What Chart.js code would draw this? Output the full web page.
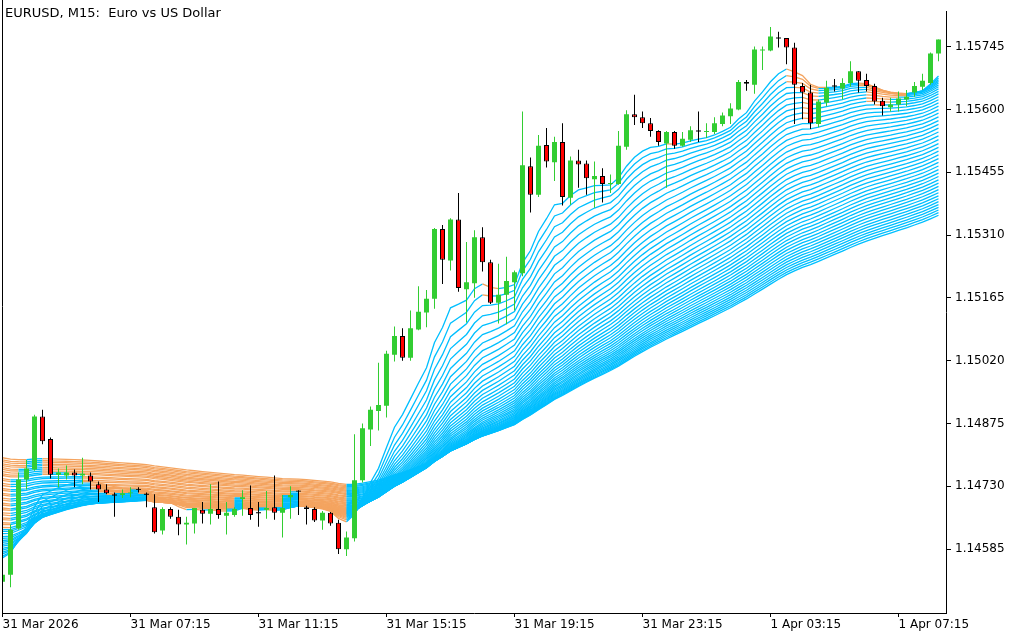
<!DOCTYPE html>
<html>
<head>
<meta charset="utf-8">
<title>EURUSD, M15</title>
<script src="https://cdn.jsdelivr.net/npm/chart.js"></script>
<style>
  html, body { margin: 0; padding: 0; background: #fff; }
  #wrap { position: relative; width: 1024px; height: 640px; }
  #title { position: absolute; left: 5px; top: 5px; font: 13px "DejaVu Sans", sans-serif; line-height: 15px; color: #000; white-space: pre; }
</style>
</head>
<body>
<div id="wrap">
  <canvas id="chart" width="1024" height="640"></canvas>
  <div id="title">EURUSD, M15:  Euro vs US Dollar</div>
</div>
<script>
// M15 bars, 31 Mar 03:15 .. 1 Apr 08:30
const opens = [
  1.14510, 1.14526, 1.14633, 1.14746, 1.14769, 1.14891, 1.14839, 1.14757, 1.14755, 1.14762,
  1.14755, 1.14755, 1.14735, 1.14723, 1.14710, 1.14710, 1.14714, 1.14723, 1.14712, 1.14682,
  1.14628, 1.14678, 1.14660, 1.14642, 1.14644, 1.14676, 1.14667, 1.14678, 1.14662, 1.14664,
  1.14701, 1.14680, 1.14669, 1.14676, 1.14682, 1.14669, 1.14705, 1.14719, 1.14682, 1.14678,
  1.14651, 1.14669, 1.14646, 1.14585, 1.14610, 1.14744, 1.14861, 1.14904, 1.14916, 1.15034,
  1.15077, 1.15027, 1.15092, 1.15131, 1.15163, 1.15324, 1.15251, 1.15346, 1.15185, 1.15199,
  1.15305, 1.15247, 1.15154, 1.15172, 1.15201, 1.15222, 1.15469, 1.15403, 1.15518, 1.15478,
  1.15525, 1.15396, 1.15482, 1.15475, 1.15439, 1.15446, 1.15428, 1.15428, 1.15514, 1.15589,
  1.15582, 1.15568, 1.15550, 1.15521, 1.15548, 1.15516, 1.15530, 1.15550, 1.15548, 1.15548,
  1.15566, 1.15584, 1.15600, 1.15663, 1.15657, 1.15736, 1.15736, 1.15765, 1.15765, 1.15743,
  1.15654, 1.15639, 1.15566, 1.15616, 1.15654, 1.15648, 1.15661, 1.15688, 1.15668, 1.15654,
  1.15620, 1.15605, 1.15611, 1.15623, 1.15639, 1.15652, 1.15661, 1.15729
];
const highs = [
  1.14535, 1.14642, 1.14762, 1.14791, 1.14895, 1.14907, 1.14843, 1.14771, 1.14778, 1.14769,
  1.14796, 1.14762, 1.14741, 1.14735, 1.14716, 1.14723, 1.14728, 1.14728, 1.14716, 1.14712,
  1.14682, 1.14682, 1.14676, 1.14660, 1.14678, 1.14694, 1.14735, 1.14741, 1.14694, 1.14682,
  1.14721, 1.14732, 1.14694, 1.14719, 1.14755, 1.14710, 1.14730, 1.14721, 1.14685, 1.14682,
  1.14673, 1.14671, 1.14653, 1.14626, 1.14850, 1.14875, 1.14914, 1.15015, 1.15043, 1.15099,
  1.15095, 1.15136, 1.15192, 1.15183, 1.15326, 1.15333, 1.15349, 1.15407, 1.15294, 1.15321,
  1.15328, 1.15253, 1.15244, 1.15260, 1.15228, 1.15595, 1.15489, 1.15541, 1.15557, 1.15537,
  1.15568, 1.15491, 1.15507, 1.15482, 1.15480, 1.15464, 1.15450, 1.15550, 1.15598, 1.15634,
  1.15595, 1.15580, 1.15552, 1.15550, 1.15550, 1.15548, 1.15561, 1.15595, 1.15568, 1.15582,
  1.15593, 1.15614, 1.15668, 1.15668, 1.15745, 1.15745, 1.15790, 1.15779, 1.15765, 1.15754,
  1.15661, 1.15657, 1.15623, 1.15666, 1.15670, 1.15672, 1.15711, 1.15688, 1.15682, 1.15659,
  1.15627, 1.15627, 1.15641, 1.15645, 1.15663, 1.15682, 1.15731, 1.15761
];
const lows = [
  1.14503, 1.14497, 1.14630, 1.14723, 1.14766, 1.14827, 1.14748, 1.14728, 1.14746, 1.14728,
  1.14735, 1.14723, 1.14694, 1.14712, 1.14660, 1.14703, 1.14705, 1.14716, 1.14682, 1.14621,
  1.14619, 1.14655, 1.14617, 1.14596, 1.14621, 1.14644, 1.14642, 1.14655, 1.14619, 1.14660,
  1.14662, 1.14653, 1.14637, 1.14655, 1.14653, 1.14612, 1.14655, 1.14664, 1.14642, 1.14648,
  1.14630, 1.14639, 1.14574, 1.14569, 1.14603, 1.14739, 1.14823, 1.14859, 1.14889, 1.15018,
  1.15020, 1.15020, 1.15090, 1.15097, 1.15140, 1.15197, 1.15228, 1.15179, 1.15108, 1.15165,
  1.15226, 1.15151, 1.15106, 1.15104, 1.15136, 1.15215, 1.15362, 1.15398, 1.15466, 1.15435,
  1.15378, 1.15380, 1.15419, 1.15403, 1.15373, 1.15385, 1.15407, 1.15426, 1.15507, 1.15564,
  1.15557, 1.15537, 1.15516, 1.15419, 1.15509, 1.15514, 1.15525, 1.15525, 1.15534, 1.15543,
  1.15561, 1.15566, 1.15598, 1.15643, 1.15636, 1.15691, 1.15734, 1.15743, 1.15704, 1.15566,
  1.15577, 1.15555, 1.15559, 1.15607, 1.15641, 1.15623, 1.15652, 1.15639, 1.15641, 1.15611,
  1.15586, 1.15595, 1.15595, 1.15607, 1.15629, 1.15645, 1.15657, 1.15711
];
const closes = [
  1.14526, 1.14630, 1.14746, 1.14771, 1.14891, 1.14834, 1.14757, 1.14762, 1.14762, 1.14755,
  1.14759, 1.14741, 1.14723, 1.14714, 1.14710, 1.14714, 1.14716, 1.14723, 1.14712, 1.14624,
  1.14678, 1.14660, 1.14642, 1.14646, 1.14680, 1.14667, 1.14678, 1.14664, 1.14669, 1.14678,
  1.14705, 1.14664, 1.14669, 1.14680, 1.14669, 1.14680, 1.14710, 1.14719, 1.14678, 1.14651,
  1.14669, 1.14644, 1.14585, 1.14612, 1.14744, 1.14864, 1.14907, 1.14918, 1.15036, 1.15077,
  1.15027, 1.15095, 1.15133, 1.15163, 1.15324, 1.15253, 1.15346, 1.15188, 1.15201, 1.15305,
  1.15247, 1.15154, 1.15172, 1.15204, 1.15224, 1.15471, 1.15403, 1.15516, 1.15480, 1.15525,
  1.15398, 1.15482, 1.15473, 1.15441, 1.15446, 1.15428, 1.15430, 1.15516, 1.15589, 1.15582,
  1.15568, 1.15550, 1.15525, 1.15548, 1.15516, 1.15532, 1.15552, 1.15550, 1.15550, 1.15568,
  1.15586, 1.15602, 1.15663, 1.15659, 1.15738, 1.15738, 1.15768, 1.15765, 1.15743, 1.15657,
  1.15639, 1.15568, 1.15618, 1.15650, 1.15654, 1.15661, 1.15688, 1.15666, 1.15654, 1.15618,
  1.15607, 1.15611, 1.15625, 1.15629, 1.15654, 1.15666, 1.15729, 1.15761
];

const timeTickBars = [0, 16, 32, 48, 64, 80, 96, 112];
const timeTickLabels = ['31 Mar 2026', '31 Mar 07:15', '31 Mar 11:15', '31 Mar 15:15',
  '31 Mar 19:15', '31 Mar 23:15', '1 Apr 03:15', '1 Apr 07:15'];
const priceTicks = [1.14585, 1.14730, 1.14875, 1.15020, 1.15165, 1.15310, 1.15455, 1.15600, 1.15745];

// ribbon of EMAs: periods and the value each line has at the first visible bar
const maPeriods = [10, 12, 14, 16, 18, 20, 22, 24, 26, 28, 30, 32, 34, 36, 38, 40, 42, 44, 46, 48,
  50, 52, 54, 56, 58, 60, 62, 64, 66, 68, 70, 72, 74, 76, 78, 80, 82, 84, 86, 88,
  90, 92, 94, 96, 98, 100];
const maStart = [
  1.14565, 1.14569, 1.14574, 1.14578, 1.14583, 1.14587, 1.14592, 1.14596, 1.14601, 1.14605,
  1.14610, 1.14614, 1.14621, 1.14626, 1.14630, 1.14635, 1.14642, 1.14646, 1.14653, 1.14657,
  1.14664, 1.14669, 1.14676, 1.14680, 1.14687, 1.14691, 1.14698, 1.14703, 1.14710, 1.14714,
  1.14721, 1.14725, 1.14732, 1.14737, 1.14744, 1.14748, 1.14755, 1.14759, 1.14764, 1.14769,
  1.14773, 1.14778, 1.14782, 1.14787, 1.14791, 1.14796
];

const BULL = '#32cd32';
const BEAR = '#ff0000';
const RISING = '#00bfff';
const FALLING = '#f4a460';

const maLines = maPeriods.map((n, i) => {
  const a = 2 / (n + 1);
  let v = maStart[i];
  return closes.map((c, k) => {
    if (k > 0) v += a * (c - v);
    return { x: k, y: v };
  });
});

const lineSets = maLines.map(pts => ({
  type: 'line',
  data: pts,
  borderWidth: 1.3,
  borderColor: RISING,
  pointRadius: 0,
  order: 2,
  segment: {
    borderColor: s => s.p1.parsed.y < s.p0.parsed.y ? FALLING : RISING
  }
}));

const dir = k => closes[k] > opens[k] ? 1 : (closes[k] < opens[k] ? -1 : 0);

const wickSet = {
  type: 'bar',
  data: opens.map((o, k) => ({ x: k, y: [lows[k], highs[k]] })),
  backgroundColor: ctx => dir(ctx.dataIndex) > 0 ? BULL : '#000',
  maxBarThickness: 1,
  grouped: false,
  order: 1
};

// a doji gets a one pixel high body
const bodySet = {
  type: 'bar',
  data: opens.map((o, k) => ({ x: k, y: o === closes[k] ? [o - 0.0000113, o + 0.0000113] : [o, closes[k]] })),
  backgroundColor: ctx => {
    const d = dir(ctx.dataIndex);
    return d > 0 ? BULL : (d < 0 ? BEAR : '#000');
  },
  borderColor: '#000',
  borderWidth: ctx => dir(ctx.dataIndex) < 0 ? 1 : 0,
  borderSkipped: false,
  maxBarThickness: 5,
  grouped: false,
  order: 0
};

const leftEdge = {
  id: 'leftEdge',
  afterDraw(chart) {
    const { ctx, chartArea } = chart;
    ctx.save();
    ctx.strokeStyle = '#000';
    ctx.lineWidth = 1;
    ctx.beginPath();
    ctx.moveTo(chartArea.left + 0.5, 0);
    ctx.lineTo(chartArea.left + 0.5, chartArea.bottom);
    ctx.stroke();
    ctx.restore();
  }
};

const font = { family: 'DejaVu Sans', size: 12 };

new Chart(document.getElementById('chart'), {
  type: 'bar',
  data: { datasets: [...lineSets, wickSet, bodySet] },
  options: {
    responsive: false,
    animation: false,
    devicePixelRatio: 1,
    layout: { padding: { left: 2, top: 0, right: 0, bottom: 0 } },
    plugins: { legend: { display: false }, tooltip: { enabled: false } },
    scales: {
      x: {
        type: 'linear',
        min: -0.0625,
        max: 117.9375,
        offset: false,
        afterBuildTicks: s => { s.ticks = timeTickBars.map(v => ({ value: v })); },
        afterFit: s => { s.height = 27; },
        ticks: {
          autoSkip: false,
          maxRotation: 0,
          align: 'start',
          padding: 1,
          color: '#000',
          font,
          callback: (v, i) => timeTickLabels[i]
        },
        grid: { drawOnChartArea: false, tickLength: 4, color: '#000', offset: false },
        border: { color: '#000' }
      },
      y: {
        type: 'linear',
        position: 'right',
        min: 1.144377,
        max: 1.158266,
        afterBuildTicks: s => { s.ticks = priceTicks.map(v => ({ value: v })); },
        afterFit: s => { s.width = 78; },
        ticks: {
          padding: 4,
          color: '#000',
          font,
          callback: v => v.toFixed(5)
        },
        grid: { drawOnChartArea: false, tickLength: 5, color: '#000' },
        border: { color: '#000' }
      }
    }
  },
  plugins: [leftEdge]
});
</script>
</body>
</html>
